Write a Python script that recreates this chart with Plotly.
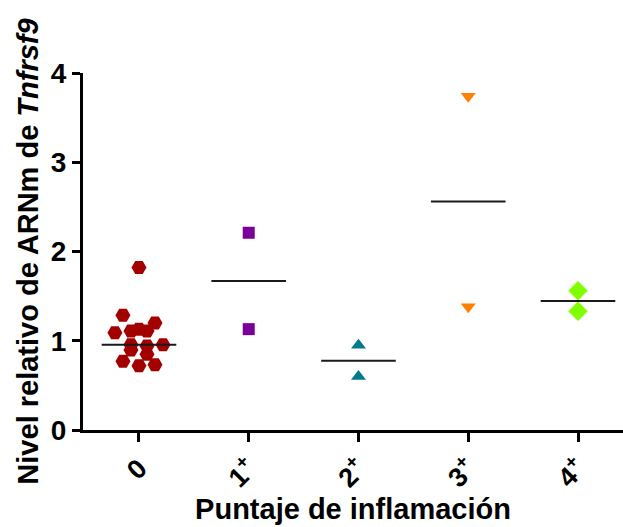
import numpy as np
import plotly.graph_objects as go

categories = ["0", "1<sup>+</sup>", "2<sup>+</sup>", "3<sup>+</sup>", "4<sup>+</sup>"]
g0 = [1.82, 1.285, 1.20, 1.09, 1.11, 1.13, 1.11, 0.956, 0.94, 0.956, 0.896, 0.85, 0.77, 0.72, 0.73]
g0_slots = [0, -2, 2, -3, -1, 0, 1, -1, 1, 3, -1, 1, -2, 0, 2]
g1 = [2.21, 1.13]
g2 = [0.95, 0.60]
g3 = [3.74, 1.38]
g4 = [1.56, 1.33]

groups = [g0, g1, g2, g3, g4]
slots = [g0_slots, [0, 0], [0, 0], [0, 0], [0, 0]]
colors = ["#A30000", "#7A0099", "#007A8C", "#FF7F00", "#7FFF00"]
symbols = ["hexagon2", "square", "triangle-up", "triangle-down", "diamond"]
sizes = [15, 12, 13, 13, 15]
slot_w = 0.073
half_w = 0.34

fig = go.Figure()
for i, (vals, sl) in enumerate(zip(groups, slots)):
    xs = [i + s * slot_w for s in sl]
    fig.add_trace(go.Scatter(x=xs, y=vals, mode="markers",
                             marker=dict(symbol=symbols[i], color=colors[i], size=sizes[i],
                                         line=dict(width=0)),
                             showlegend=False))
    med = float(np.median(vals))
    fig.add_trace(go.Scatter(x=[i - half_w, i + half_w], y=[med, med], mode="lines",
                             line=dict(color="#1a1a1a", width=2), showlegend=False))

fig.update_layout(
    width=623, height=527,
    margin=dict(l=83, r=0, t=73, b=97),
    plot_bgcolor="white", paper_bgcolor="white",
    font=dict(family="Liberation Sans, Arial", color="black", size=26),
)
fig.update_xaxes(
    range=[-0.51, 4.41], tickmode="array", tickvals=list(range(5)),
    ticktext=["<b>%s</b>" % c for c in categories], tickangle=-45,
    showline=True, linecolor="black", linewidth=3,
    ticks="outside", ticklen=9, tickwidth=3, tickcolor="black",
    showgrid=False, zeroline=False,
    tickfont=dict(size=27),
    title=dict(text="<b>Puntaje de inflamación</b>", font=dict(size=29), standoff=2),
)
fig.update_yaxes(
    range=[0, 4], tickmode="array", tickvals=[0, 1, 2, 3, 4],
    ticktext=["<b>%d</b>" % v for v in [0, 1, 2, 3, 4]],
    showline=True, linecolor="black", linewidth=3,
    ticks="outside", ticklen=8, tickwidth=3, tickcolor="black",
    showgrid=False, zeroline=False,
    tickfont=dict(size=28),
    title=dict(text="<b>Nivel relativo de ARNm de <i>Tnfrsf9</i></b>", font=dict(size=29), standoff=4),
)

fig.write_html("out.html")
